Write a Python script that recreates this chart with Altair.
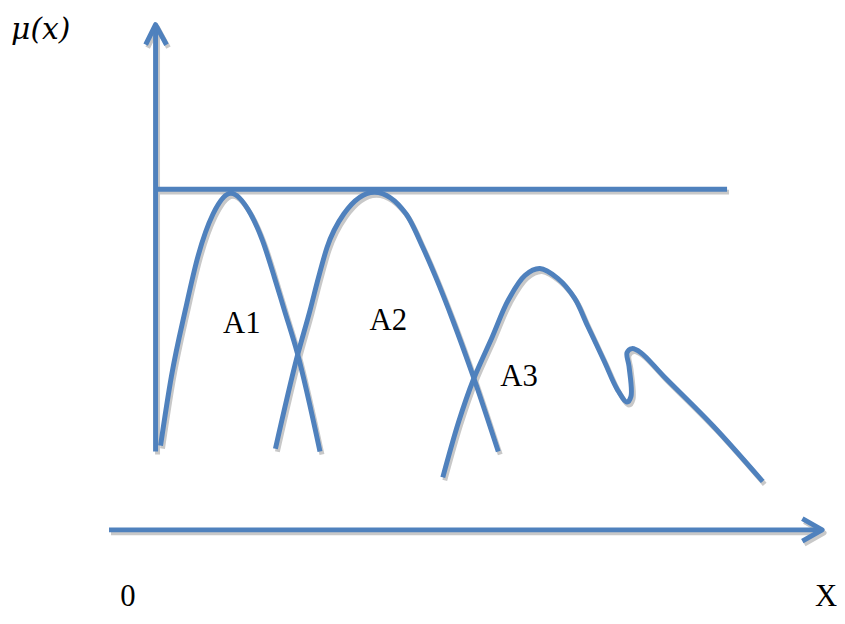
import altair as alt
import pandas as pd

BLUE = "#4F81BD"
SHADOW = "#C8C8C8"

# ---- membership curves (x in diagram units, mu = membership degree) ----
A1_X = [0.05, 0.16, 0.30, 0.43, 0.58, 0.76, 0.96, 1.08, 1.20, 1.30, 1.43, 1.66]
A1_MU = [0.247, 0.451, 0.645, 0.805, 0.927, 0.988, 0.927, 0.849, 0.741, 0.645, 0.520, 0.230]

A2_X = [1.21, 1.43, 1.56, 1.645, 1.73, 1.90, 2.21, 2.53, 2.70, 2.83, 3.00, 3.21, 3.46]
A2_MU = [0.238, 0.509, 0.645, 0.741, 0.828, 0.927, 0.991, 0.927, 0.828, 0.741, 0.616, 0.448, 0.230]

A3_X = [2.90, 3.06, 3.21, 3.40, 3.56, 3.73, 3.88, 4.06, 4.23, 4.36, 4.53, 4.66, 4.76,
        4.80, 4.78, 4.76, 4.81, 4.90, 5.13, 5.63, 6.13]
A3_MU = [0.154, 0.317, 0.442, 0.567, 0.674, 0.747, 0.767, 0.738, 0.680, 0.600, 0.495, 0.413, 0.375,
         0.392, 0.480, 0.520, 0.532, 0.520, 0.451, 0.305, 0.142]

# ---- straight elements: max line, axes and arrow heads ----
TOP_X = [0.01, 5.77]
TOP_MU = [1.0, 1.0]
YAXIS_X = [0.0, 0.0]
YAXIS_MU = [0.230, 1.480]
YHEAD_X = [-0.10, 0.0, 0.11]
YHEAD_MU = [1.424, 1.483, 1.424]
XAXIS_X = [-0.47, 6.73]
XAXIS_MU = [0.0, 0.0]
XHEAD_X = [6.53, 6.73, 6.53]
XHEAD_MU = [0.033, 0.0, -0.033]

# ---- labels ----
LABELS = ["A1", "A2", "A3", "0", "X"]
LABEL_X = [0.87, 2.35, 3.67, -0.28, 6.77]
LABEL_MU = [0.605, 0.613, 0.448, -0.198, -0.198]
YTITLE = "μ(x)"
YTITLE_X = -1.16
YTITLE_MU = 1.468


def build(series):
    rows = []
    for name, xs, ms in series:
        for i, (x, m) in enumerate(zip(xs, ms)):
            rows.append({"series": name, "order": i, "x": x, "mu": m})
    return pd.DataFrame(rows)


bells = build([("A1", A1_X, A1_MU), ("A2", A2_X, A2_MU)])
wave = build([("A3", A3_X, A3_MU)])
straight = build([
    ("top", TOP_X, TOP_MU), ("yaxis", YAXIS_X, YAXIS_MU), ("yhead", YHEAD_X, YHEAD_MU),
    ("xaxis", XAXIS_X, XAXIS_MU), ("xhead", XHEAD_X, XHEAD_MU),
])

DX, DMU = 0.02, -0.0087


def shadow(df):
    s = df.copy()
    s["x"] = s["x"] + DX
    s["mu"] = s["mu"] + DMU
    return s


xs = alt.Scale(domain=[-1.49, 6.88], nice=False, zero=False)
ys = alt.Scale(domain=[-0.23256, 1.52326], nice=False, zero=False)


def enc(ch):
    return ch.encode(
        x=alt.X("x:Q", scale=xs, axis=None),
        y=alt.Y("mu:Q", scale=ys, axis=None),
        detail="series:N",
        order="order:O",
    )


def lines(df, color, **kw):
    return enc(alt.Chart(df).mark_line(color=color, strokeWidth=5, **kw))


layers = []
for col, f in ((SHADOW, shadow), (BLUE, lambda d: d)):
    layers.append(lines(f(straight), col, strokeJoin="round"))
    layers.append(lines(f(bells), col, interpolate="monotone"))
    layers.append(lines(f(wave), col, interpolate="catmull-rom"))

labels_df = pd.DataFrame({"label": LABELS, "x": LABEL_X, "mu": LABEL_MU})
t_labels = alt.Chart(labels_df).mark_text(
    font="Liberation Serif", fontSize=31, color="black", baseline="middle", align="center"
).encode(
    x=alt.X("x:Q", scale=xs, axis=None),
    y=alt.Y("mu:Q", scale=ys, axis=None),
    text="label:N",
)

title_df = pd.DataFrame({"label": [YTITLE], "x": [YTITLE_X], "mu": [YTITLE_MU]})
t_title = alt.Chart(title_df).mark_text(
    font="DejaVu Serif", fontStyle="italic", fontSize=30, color="black",
    baseline="middle", align="center"
).encode(
    x=alt.X("x:Q", scale=xs, axis=None),
    y=alt.Y("mu:Q", scale=ys, axis=None),
    text="label:N",
)

chart = alt.layer(*layers, t_labels, t_title).properties(
    width=837, height=604,
    autosize=alt.AutoSizeParams(type="none"),
    padding=0,
    background="white",
).configure_view(stroke=None)

chart.save("out.html", embed_options={"renderer": "svg", "actions": False})
